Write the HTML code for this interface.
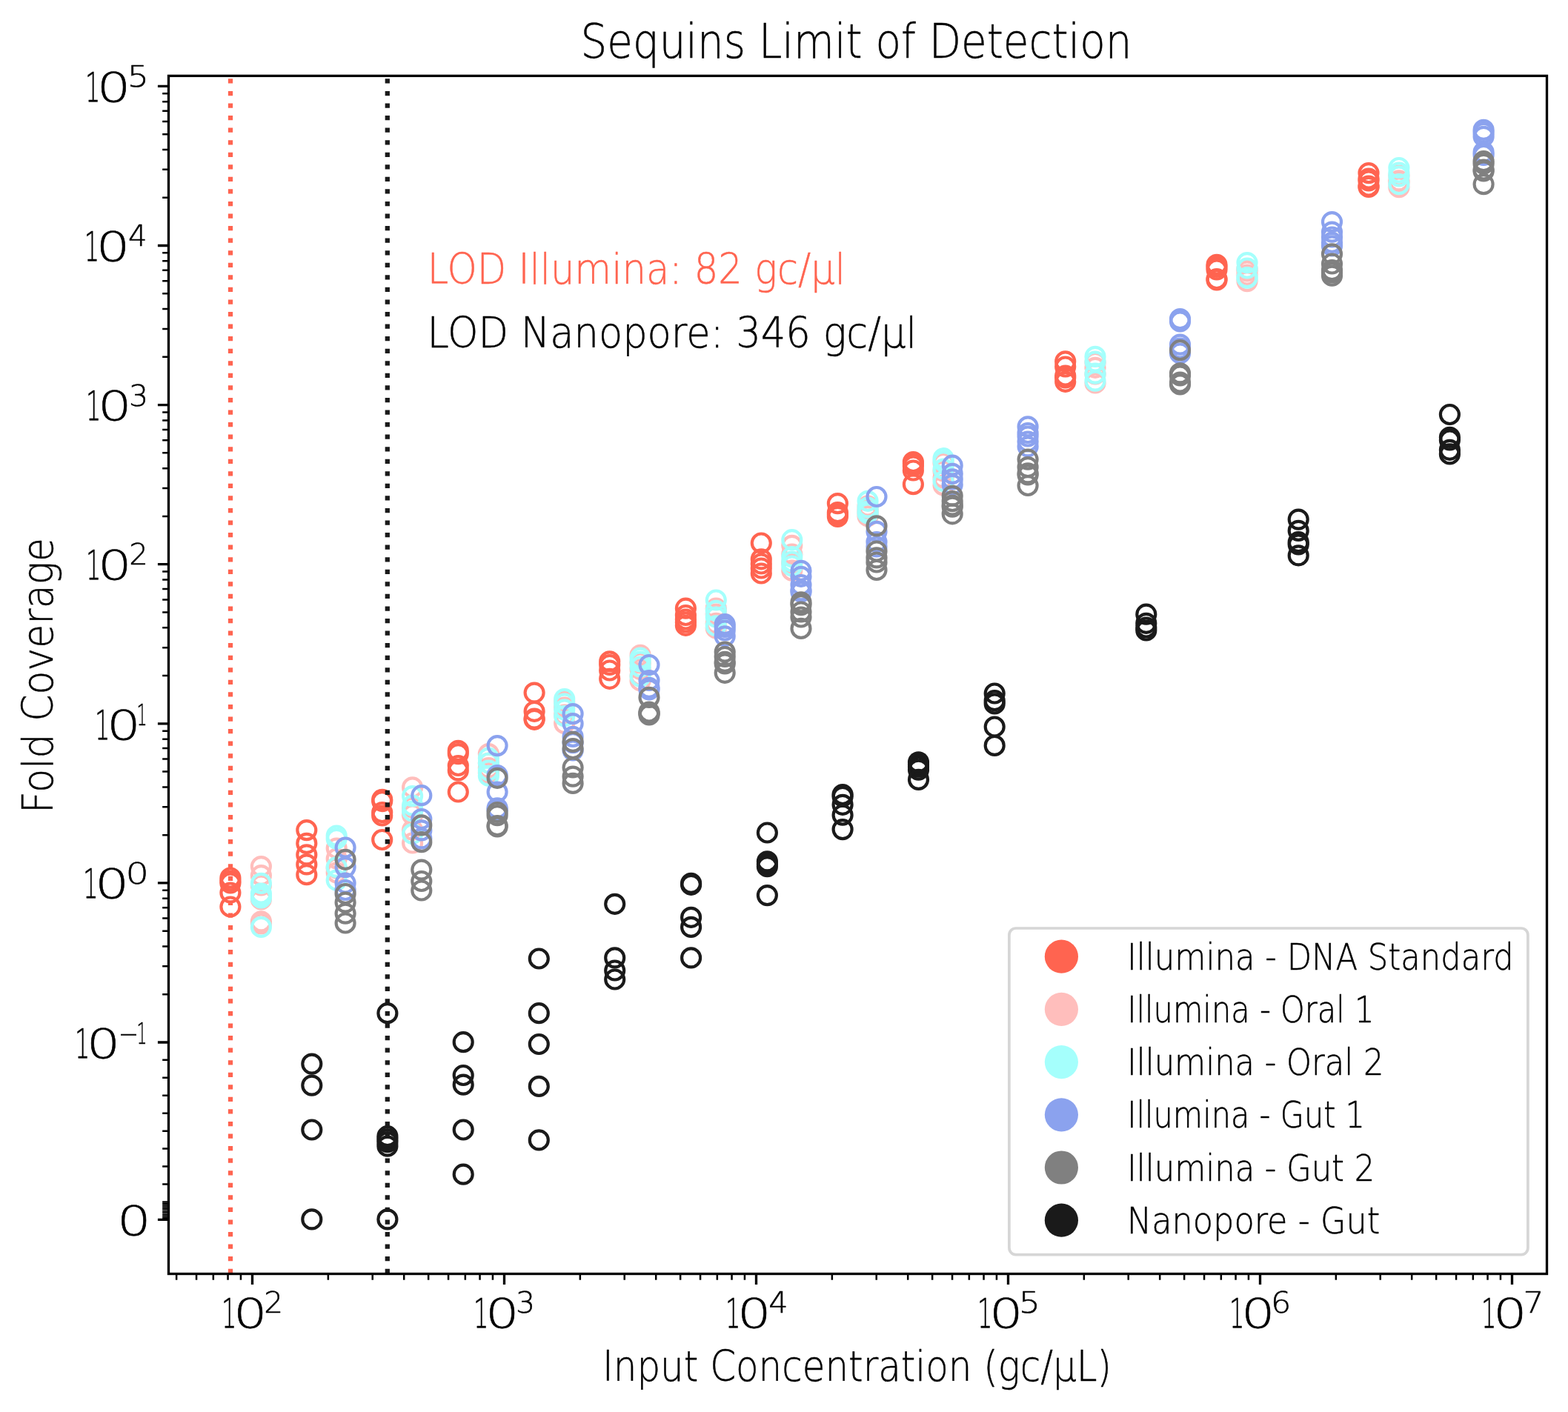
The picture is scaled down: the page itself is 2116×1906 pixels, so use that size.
<!DOCTYPE html><html><head><meta charset="utf-8"><title>Sequins Limit of Detection</title><style>html,body{margin:0;padding:0;background:#fff;overflow:hidden;}svg{display:block;}text{font-family:"DejaVu Sans", "Liberation Sans", sans-serif;font-weight:200;stroke-width:0.5px;stroke-linejoin:round;}</style></head><body>
<svg xmlns="http://www.w3.org/2000/svg" width="2116" height="1906" viewBox="0 0 2116 1906">
<rect x="0" y="0" width="2116" height="1906" fill="#fff"/>
<path d="M238.15 1719.5V1727.83M265.07 1719.5V1727.83M287.83 1719.5V1727.83M307.55 1719.5V1727.83M324.94 1719.5V1727.83M442.85 1719.5V1727.83M502.72 1719.5V1727.83M545.20 1719.5V1727.83M578.15 1719.5V1727.83M605.07 1719.5V1727.83M627.83 1719.5V1727.83M647.55 1719.5V1727.83M664.94 1719.5V1727.83M782.85 1719.5V1727.83M842.72 1719.5V1727.83M885.20 1719.5V1727.83M918.15 1719.5V1727.83M945.07 1719.5V1727.83M967.83 1719.5V1727.83M987.55 1719.5V1727.83M1004.94 1719.5V1727.83M1122.85 1719.5V1727.83M1182.72 1719.5V1727.83M1225.20 1719.5V1727.83M1258.15 1719.5V1727.83M1285.07 1719.5V1727.83M1307.83 1719.5V1727.83M1327.55 1719.5V1727.83M1344.94 1719.5V1727.83M1462.85 1719.5V1727.83M1522.72 1719.5V1727.83M1565.20 1719.5V1727.83M1598.15 1719.5V1727.83M1625.07 1719.5V1727.83M1647.83 1719.5V1727.83M1667.55 1719.5V1727.83M1684.94 1719.5V1727.83M1802.85 1719.5V1727.83M1862.72 1719.5V1727.83M1905.20 1719.5V1727.83M1938.15 1719.5V1727.83M1965.07 1719.5V1727.83M1987.83 1719.5V1727.83M2007.55 1719.5V1727.83M2024.94 1719.5V1727.83M227.5 1342.25H219.17M227.5 1304.37H219.17M227.5 1277.50H219.17M227.5 1256.65H219.17M227.5 1239.62H219.17M227.5 1225.22H219.17M227.5 1212.75H219.17M227.5 1201.74H219.17M227.5 1127.15H219.17M227.5 1089.27H219.17M227.5 1062.40H219.17M227.5 1041.55H219.17M227.5 1024.52H219.17M227.5 1010.12H219.17M227.5 997.65H219.17M227.5 986.64H219.17M227.5 912.05H219.17M227.5 874.17H219.17M227.5 847.30H219.17M227.5 826.45H219.17M227.5 809.42H219.17M227.5 795.02H219.17M227.5 782.55H219.17M227.5 771.54H219.17M227.5 696.95H219.17M227.5 659.07H219.17M227.5 632.20H219.17M227.5 611.35H219.17M227.5 594.32H219.17M227.5 579.92H219.17M227.5 567.45H219.17M227.5 556.44H219.17M227.5 481.85H219.17M227.5 443.97H219.17M227.5 417.10H219.17M227.5 396.25H219.17M227.5 379.22H219.17M227.5 364.82H219.17M227.5 352.35H219.17M227.5 341.34H219.17M227.5 266.75H219.17M227.5 228.87H219.17M227.5 202.00H219.17M227.5 181.15H219.17M227.5 164.12H219.17M227.5 149.72H219.17M227.5 137.25H219.17M227.5 126.24H219.17M227.5 1622.45H219.17M227.5 1598.50H219.17M227.5 1574.55H219.17M227.5 1550.60H219.17M227.5 1526.65H219.17M227.5 1502.70H219.17M227.5 1478.75H219.17M227.5 1454.80H219.17M227.5 1430.85H219.17" stroke="#000" stroke-width="2.5" fill="none"/>
<path d="M227.5 1644.01H219.17M227.5 1641.61H219.17M227.5 1639.22H219.17M227.5 1636.82H219.17M227.5 1634.43H219.17M227.5 1632.03H219.17M227.5 1629.63H219.17M227.5 1627.24H219.17M227.5 1624.85H219.17" stroke="#000" stroke-width="2.1" fill="none"/>
<path d="M340.50 1719.5V1734.08M680.50 1719.5V1734.08M1020.50 1719.5V1734.08M1360.50 1719.5V1734.08M1700.50 1719.5V1734.08M2040.50 1719.5V1734.08M227.5 1407.00H212.92M227.5 1191.90H212.92M227.5 976.80H212.92M227.5 761.70H212.92M227.5 546.60H212.92M227.5 331.50H212.92M227.5 116.40H212.92M227.5 1646.40H212.92" stroke="#000" stroke-width="3.33" fill="none"/>
<g fill="none" stroke="#ff6450" stroke-width="4.17"><circle cx="310.9" cy="1185.0" r="12.5"/><circle cx="310.9" cy="1189.0" r="12.5"/><circle cx="310.9" cy="1192.0" r="12.5"/><circle cx="310.9" cy="1205.0" r="12.5"/><circle cx="310.9" cy="1224.0" r="12.5"/><circle cx="413.8" cy="1120.6" r="12.5"/><circle cx="413.8" cy="1138.4" r="12.5"/><circle cx="413.8" cy="1153.8" r="12.5"/><circle cx="413.8" cy="1166.9" r="12.5"/><circle cx="413.8" cy="1180.7" r="12.5"/><circle cx="515.7" cy="1079.3" r="12.5"/><circle cx="515.7" cy="1081.6" r="12.5"/><circle cx="515.7" cy="1096.6" r="12.5"/><circle cx="515.7" cy="1101.0" r="12.5"/><circle cx="515.7" cy="1133.5" r="12.5"/><circle cx="618.3" cy="1013.4" r="12.5"/><circle cx="618.3" cy="1017.6" r="12.5"/><circle cx="618.3" cy="1033.5" r="12.5"/><circle cx="618.3" cy="1039.9" r="12.5"/><circle cx="618.3" cy="1069.0" r="12.5"/><circle cx="721.1" cy="935.1" r="12.5"/><circle cx="721.1" cy="960.3" r="12.5"/><circle cx="721.1" cy="970.1" r="12.5"/><circle cx="721.1" cy="971.3" r="12.5"/><circle cx="822.7" cy="892.8" r="12.5"/><circle cx="822.7" cy="897.5" r="12.5"/><circle cx="822.7" cy="905.0" r="12.5"/><circle cx="822.7" cy="916.3" r="12.5"/><circle cx="925.4" cy="821.2" r="12.5"/><circle cx="925.4" cy="830.5" r="12.5"/><circle cx="925.4" cy="836.0" r="12.5"/><circle cx="925.4" cy="840.0" r="12.5"/><circle cx="925.4" cy="844.3" r="12.5"/><circle cx="1027.3" cy="733.0" r="12.5"/><circle cx="1027.3" cy="754.8" r="12.5"/><circle cx="1027.3" cy="761.0" r="12.5"/><circle cx="1027.3" cy="767.0" r="12.5"/><circle cx="1027.3" cy="774.0" r="12.5"/><circle cx="1130.4" cy="679.6" r="12.5"/><circle cx="1130.4" cy="691.7" r="12.5"/><circle cx="1130.4" cy="694.5" r="12.5"/><circle cx="1130.4" cy="697.5" r="12.5"/><circle cx="1232.4" cy="623.5" r="12.5"/><circle cx="1232.4" cy="626.0" r="12.5"/><circle cx="1232.4" cy="629.0" r="12.5"/><circle cx="1232.4" cy="635.0" r="12.5"/><circle cx="1232.4" cy="653.7" r="12.5"/><circle cx="1437.7" cy="487.9" r="12.5"/><circle cx="1437.7" cy="495.0" r="12.5"/><circle cx="1437.7" cy="507.0" r="12.5"/><circle cx="1437.7" cy="510.0" r="12.5"/><circle cx="1437.7" cy="515.3" r="12.5"/><circle cx="1642.0" cy="357.4" r="12.5"/><circle cx="1642.0" cy="360.3" r="12.5"/><circle cx="1642.0" cy="364.0" r="12.5"/><circle cx="1642.0" cy="376.5" r="12.5"/><circle cx="1642.0" cy="378.0" r="12.5"/><circle cx="1847.0" cy="233.6" r="12.5"/><circle cx="1847.0" cy="241.0" r="12.5"/><circle cx="1847.0" cy="244.0" r="12.5"/><circle cx="1847.0" cy="251.0" r="12.5"/><circle cx="1847.0" cy="252.5" r="12.5"/></g>
<g fill="none" stroke="#ffbebc" stroke-width="4.17"><circle cx="352.4" cy="1169.6" r="12.5"/><circle cx="352.4" cy="1181.7" r="12.5"/><circle cx="352.4" cy="1195.0" r="12.5"/><circle cx="352.4" cy="1214.0" r="12.5"/><circle cx="352.4" cy="1243.9" r="12.5"/><circle cx="352.4" cy="1247.0" r="12.5"/><circle cx="454.2" cy="1145.0" r="12.5"/><circle cx="454.2" cy="1159.0" r="12.5"/><circle cx="454.2" cy="1172.0" r="12.5"/><circle cx="454.2" cy="1178.0" r="12.5"/><circle cx="556.6" cy="1062.8" r="12.5"/><circle cx="556.6" cy="1090.0" r="12.5"/><circle cx="556.6" cy="1100.0" r="12.5"/><circle cx="556.6" cy="1120.3" r="12.5"/><circle cx="556.6" cy="1138.0" r="12.5"/><circle cx="659.4" cy="1017.6" r="12.5"/><circle cx="659.4" cy="1036.7" r="12.5"/><circle cx="659.4" cy="1043.6" r="12.5"/><circle cx="659.4" cy="1030.0" r="12.5"/><circle cx="761.7" cy="947.0" r="12.5"/><circle cx="761.7" cy="955.0" r="12.5"/><circle cx="761.7" cy="965.0" r="12.5"/><circle cx="761.7" cy="976.5" r="12.5"/><circle cx="864.1" cy="884.4" r="12.5"/><circle cx="864.1" cy="895.0" r="12.5"/><circle cx="864.1" cy="903.5" r="12.5"/><circle cx="864.1" cy="912.0" r="12.5"/><circle cx="864.1" cy="918.8" r="12.5"/><circle cx="966.3" cy="821.2" r="12.5"/><circle cx="966.3" cy="829.1" r="12.5"/><circle cx="966.3" cy="841.3" r="12.5"/><circle cx="966.3" cy="848.0" r="12.5"/><circle cx="1068.8" cy="736.3" r="12.5"/><circle cx="1068.8" cy="748.0" r="12.5"/><circle cx="1068.8" cy="759.7" r="12.5"/><circle cx="1068.8" cy="770.2" r="12.5"/><circle cx="1171.1" cy="683.0" r="12.5"/><circle cx="1171.1" cy="688.0" r="12.5"/><circle cx="1171.1" cy="692.0" r="12.5"/><circle cx="1171.1" cy="696.7" r="12.5"/><circle cx="1273.1" cy="625.4" r="12.5"/><circle cx="1273.1" cy="636.0" r="12.5"/><circle cx="1273.1" cy="645.0" r="12.5"/><circle cx="1273.1" cy="655.0" r="12.5"/><circle cx="1478.0" cy="489.3" r="12.5"/><circle cx="1478.0" cy="496.3" r="12.5"/><circle cx="1478.0" cy="505.0" r="12.5"/><circle cx="1478.0" cy="517.0" r="12.5"/><circle cx="1683.0" cy="362.8" r="12.5"/><circle cx="1683.0" cy="366.0" r="12.5"/><circle cx="1683.0" cy="371.0" r="12.5"/><circle cx="1683.0" cy="379.6" r="12.5"/><circle cx="1887.9" cy="237.1" r="12.5"/><circle cx="1887.9" cy="243.8" r="12.5"/><circle cx="1887.9" cy="246.3" r="12.5"/><circle cx="1887.9" cy="252.7" r="12.5"/></g>
<g fill="none" stroke="#a5fffc" stroke-width="4.17"><circle cx="352.4" cy="1192.4" r="12.5"/><circle cx="352.4" cy="1206.0" r="12.5"/><circle cx="352.4" cy="1209.0" r="12.5"/><circle cx="352.4" cy="1211.9" r="12.5"/><circle cx="352.4" cy="1251.4" r="12.5"/><circle cx="454.2" cy="1128.1" r="12.5"/><circle cx="454.2" cy="1132.3" r="12.5"/><circle cx="454.2" cy="1170.6" r="12.5"/><circle cx="454.2" cy="1188.1" r="12.5"/><circle cx="556.6" cy="1074.6" r="12.5"/><circle cx="556.6" cy="1087.2" r="12.5"/><circle cx="556.6" cy="1095.0" r="12.5"/><circle cx="556.6" cy="1125.5" r="12.5"/><circle cx="659.4" cy="1023.2" r="12.5"/><circle cx="659.4" cy="1030.0" r="12.5"/><circle cx="659.4" cy="1040.0" r="12.5"/><circle cx="659.4" cy="1047.3" r="12.5"/><circle cx="761.7" cy="943.5" r="12.5"/><circle cx="761.7" cy="950.0" r="12.5"/><circle cx="761.7" cy="958.0" r="12.5"/><circle cx="761.7" cy="966.7" r="12.5"/><circle cx="864.1" cy="888.2" r="12.5"/><circle cx="864.1" cy="893.0" r="12.5"/><circle cx="864.1" cy="900.0" r="12.5"/><circle cx="864.1" cy="913.2" r="12.5"/><circle cx="966.3" cy="810.0" r="12.5"/><circle cx="966.3" cy="824.4" r="12.5"/><circle cx="966.3" cy="833.0" r="12.5"/><circle cx="966.3" cy="844.8" r="12.5"/><circle cx="1068.8" cy="728.7" r="12.5"/><circle cx="1068.8" cy="751.7" r="12.5"/><circle cx="1068.8" cy="758.0" r="12.5"/><circle cx="1068.8" cy="764.0" r="12.5"/><circle cx="1171.1" cy="676.3" r="12.5"/><circle cx="1171.1" cy="685.0" r="12.5"/><circle cx="1171.1" cy="690.0" r="12.5"/><circle cx="1171.1" cy="693.0" r="12.5"/><circle cx="1273.1" cy="618.7" r="12.5"/><circle cx="1273.1" cy="622.6" r="12.5"/><circle cx="1273.1" cy="633.0" r="12.5"/><circle cx="1273.1" cy="649.5" r="12.5"/><circle cx="1478.0" cy="481.4" r="12.5"/><circle cx="1478.0" cy="488.0" r="12.5"/><circle cx="1478.0" cy="504.2" r="12.5"/><circle cx="1478.0" cy="514.1" r="12.5"/><circle cx="1683.0" cy="354.6" r="12.5"/><circle cx="1683.0" cy="362.0" r="12.5"/><circle cx="1683.0" cy="374.7" r="12.5"/><circle cx="1683.0" cy="375.2" r="12.5"/><circle cx="1887.9" cy="226.5" r="12.5"/><circle cx="1887.9" cy="233.0" r="12.5"/><circle cx="1887.9" cy="238.0" r="12.5"/><circle cx="1887.9" cy="248.7" r="12.5"/></g>
<g fill="none" stroke="#8ba2ee" stroke-width="4.17"><circle cx="466.1" cy="1144.0" r="12.5"/><circle cx="466.1" cy="1170.6" r="12.5"/><circle cx="466.1" cy="1192.0" r="12.5"/><circle cx="466.1" cy="1201.5" r="12.5"/><circle cx="568.8" cy="1073.7" r="12.5"/><circle cx="568.8" cy="1105.5" r="12.5"/><circle cx="568.8" cy="1120.9" r="12.5"/><circle cx="568.8" cy="1131.9" r="12.5"/><circle cx="671.1" cy="1006.6" r="12.5"/><circle cx="671.1" cy="1046.6" r="12.5"/><circle cx="671.1" cy="1069.0" r="12.5"/><circle cx="671.1" cy="1090.9" r="12.5"/><circle cx="671.1" cy="1092.7" r="12.5"/><circle cx="773.1" cy="963.6" r="12.5"/><circle cx="773.1" cy="976.7" r="12.5"/><circle cx="773.1" cy="994.4" r="12.5"/><circle cx="773.1" cy="1002.7" r="12.5"/><circle cx="773.1" cy="1012.9" r="12.5"/><circle cx="876.0" cy="897.5" r="12.5"/><circle cx="876.0" cy="918.5" r="12.5"/><circle cx="876.0" cy="928.3" r="12.5"/><circle cx="876.0" cy="930.9" r="12.5"/><circle cx="978.2" cy="842.7" r="12.5"/><circle cx="978.2" cy="846.4" r="12.5"/><circle cx="978.2" cy="851.0" r="12.5"/><circle cx="978.2" cy="858.8" r="12.5"/><circle cx="1081.0" cy="770.4" r="12.5"/><circle cx="1081.0" cy="778.3" r="12.5"/><circle cx="1081.0" cy="789.5" r="12.5"/><circle cx="1081.0" cy="796.8" r="12.5"/><circle cx="1081.0" cy="798.9" r="12.5"/><circle cx="1183.0" cy="670.5" r="12.5"/><circle cx="1183.0" cy="717.4" r="12.5"/><circle cx="1183.0" cy="731.6" r="12.5"/><circle cx="1183.0" cy="738.0" r="12.5"/><circle cx="1285.2" cy="628.2" r="12.5"/><circle cx="1285.2" cy="639.4" r="12.5"/><circle cx="1285.2" cy="646.9" r="12.5"/><circle cx="1285.2" cy="654.3" r="12.5"/><circle cx="1387.1" cy="575.9" r="12.5"/><circle cx="1387.1" cy="584.5" r="12.5"/><circle cx="1387.1" cy="589.0" r="12.5"/><circle cx="1387.1" cy="596.0" r="12.5"/><circle cx="1387.1" cy="602.8" r="12.5"/><circle cx="1592.5" cy="430.6" r="12.5"/><circle cx="1592.5" cy="434.0" r="12.5"/><circle cx="1592.5" cy="465.1" r="12.5"/><circle cx="1592.5" cy="470.0" r="12.5"/><circle cx="1592.5" cy="477.0" r="12.5"/><circle cx="1797.5" cy="299.6" r="12.5"/><circle cx="1797.5" cy="313.1" r="12.5"/><circle cx="1797.5" cy="320.0" r="12.5"/><circle cx="1797.5" cy="327.4" r="12.5"/><circle cx="1797.5" cy="331.9" r="12.5"/><circle cx="2002.1" cy="175.4" r="12.5"/><circle cx="2002.1" cy="179.4" r="12.5"/><circle cx="2002.1" cy="184.3" r="12.5"/><circle cx="2002.1" cy="205.4" r="12.5"/><circle cx="2002.1" cy="209.5" r="12.5"/></g>
<g fill="none" stroke="#808080" stroke-width="4.17"><circle cx="466.1" cy="1160.3" r="12.5"/><circle cx="466.1" cy="1206.5" r="12.5"/><circle cx="466.1" cy="1218.2" r="12.5"/><circle cx="466.1" cy="1233.1" r="12.5"/><circle cx="466.1" cy="1246.0" r="12.5"/><circle cx="568.8" cy="1113.9" r="12.5"/><circle cx="568.8" cy="1136.7" r="12.5"/><circle cx="568.8" cy="1174.1" r="12.5"/><circle cx="568.8" cy="1189.5" r="12.5"/><circle cx="568.8" cy="1202.0" r="12.5"/><circle cx="671.1" cy="1050.3" r="12.5"/><circle cx="671.1" cy="1096.5" r="12.5"/><circle cx="671.1" cy="1100.7" r="12.5"/><circle cx="671.1" cy="1114.6" r="12.5"/><circle cx="671.1" cy="1116.0" r="12.5"/><circle cx="773.1" cy="1001.4" r="12.5"/><circle cx="773.1" cy="1010.7" r="12.5"/><circle cx="773.1" cy="1036.0" r="12.5"/><circle cx="773.1" cy="1048.1" r="12.5"/><circle cx="773.1" cy="1057.4" r="12.5"/><circle cx="876.0" cy="941.4" r="12.5"/><circle cx="876.0" cy="961.0" r="12.5"/><circle cx="876.0" cy="962.5" r="12.5"/><circle cx="876.0" cy="963.6" r="12.5"/><circle cx="876.0" cy="965.0" r="12.5"/><circle cx="978.2" cy="880.0" r="12.5"/><circle cx="978.2" cy="886.5" r="12.5"/><circle cx="978.2" cy="893.4" r="12.5"/><circle cx="978.2" cy="896.0" r="12.5"/><circle cx="978.2" cy="908.3" r="12.5"/><circle cx="1081.0" cy="812.9" r="12.5"/><circle cx="1081.0" cy="816.6" r="12.5"/><circle cx="1081.0" cy="826.0" r="12.5"/><circle cx="1081.0" cy="833.0" r="12.5"/><circle cx="1081.0" cy="848.4" r="12.5"/><circle cx="1183.0" cy="709.9" r="12.5"/><circle cx="1183.0" cy="744.0" r="12.5"/><circle cx="1183.0" cy="752.9" r="12.5"/><circle cx="1183.0" cy="759.0" r="12.5"/><circle cx="1183.0" cy="769.5" r="12.5"/><circle cx="1285.2" cy="669.3" r="12.5"/><circle cx="1285.2" cy="676.7" r="12.5"/><circle cx="1285.2" cy="682.1" r="12.5"/><circle cx="1285.2" cy="684.2" r="12.5"/><circle cx="1285.2" cy="693.8" r="12.5"/><circle cx="1387.1" cy="620.1" r="12.5"/><circle cx="1387.1" cy="630.6" r="12.5"/><circle cx="1387.1" cy="638.8" r="12.5"/><circle cx="1387.1" cy="641.0" r="12.5"/><circle cx="1387.1" cy="655.5" r="12.5"/><circle cx="1592.5" cy="472.7" r="12.5"/><circle cx="1592.5" cy="503.8" r="12.5"/><circle cx="1592.5" cy="507.0" r="12.5"/><circle cx="1592.5" cy="516.0" r="12.5"/><circle cx="1592.5" cy="519.0" r="12.5"/><circle cx="1797.5" cy="342.8" r="12.5"/><circle cx="1797.5" cy="356.0" r="12.5"/><circle cx="1797.5" cy="364.6" r="12.5"/><circle cx="1797.5" cy="368.0" r="12.5"/><circle cx="1797.5" cy="372.2" r="12.5"/><circle cx="2002.1" cy="217.6" r="12.5"/><circle cx="2002.1" cy="221.3" r="12.5"/><circle cx="2002.1" cy="229.0" r="12.5"/><circle cx="2002.1" cy="231.0" r="12.5"/><circle cx="2002.1" cy="248.7" r="12.5"/></g>
<g fill="none" stroke="#1a1a1a" stroke-width="4.17"><circle cx="420.8" cy="1436.1" r="12.5"/><circle cx="420.8" cy="1465.1" r="12.5"/><circle cx="420.8" cy="1525.0" r="12.5"/><circle cx="420.8" cy="1645.9" r="12.5"/><circle cx="522.9" cy="1367.7" r="12.5"/><circle cx="522.9" cy="1533.7" r="12.5"/><circle cx="522.9" cy="1537.7" r="12.5"/><circle cx="522.9" cy="1541.7" r="12.5"/><circle cx="522.9" cy="1547.1" r="12.5"/><circle cx="522.9" cy="1645.9" r="12.5"/><circle cx="625.2" cy="1406.7" r="12.5"/><circle cx="625.2" cy="1451.5" r="12.5"/><circle cx="625.2" cy="1464.2" r="12.5"/><circle cx="625.2" cy="1525.0" r="12.5"/><circle cx="625.2" cy="1585.2" r="12.5"/><circle cx="727.3" cy="1294.0" r="12.5"/><circle cx="727.3" cy="1367.7" r="12.5"/><circle cx="727.3" cy="1409.5" r="12.5"/><circle cx="727.3" cy="1466.4" r="12.5"/><circle cx="727.3" cy="1538.9" r="12.5"/><circle cx="829.7" cy="1220.3" r="12.5"/><circle cx="829.7" cy="1292.9" r="12.5"/><circle cx="829.7" cy="1310.0" r="12.5"/><circle cx="829.7" cy="1322.0" r="12.5"/><circle cx="932.6" cy="1192.4" r="12.5"/><circle cx="932.6" cy="1194.3" r="12.5"/><circle cx="932.6" cy="1238.3" r="12.5"/><circle cx="932.6" cy="1251.4" r="12.5"/><circle cx="932.6" cy="1292.9" r="12.5"/><circle cx="1035.4" cy="1124.0" r="12.5"/><circle cx="1035.4" cy="1162.9" r="12.5"/><circle cx="1035.4" cy="1166.4" r="12.5"/><circle cx="1035.4" cy="1169.7" r="12.5"/><circle cx="1035.4" cy="1208.6" r="12.5"/><circle cx="1137.1" cy="1072.5" r="12.5"/><circle cx="1137.1" cy="1075.3" r="12.5"/><circle cx="1137.1" cy="1086.3" r="12.5"/><circle cx="1137.1" cy="1100.2" r="12.5"/><circle cx="1137.1" cy="1119.6" r="12.5"/><circle cx="1239.5" cy="1028.8" r="12.5"/><circle cx="1239.5" cy="1032.0" r="12.5"/><circle cx="1239.5" cy="1035.1" r="12.5"/><circle cx="1239.5" cy="1039.2" r="12.5"/><circle cx="1239.5" cy="1052.4" r="12.5"/><circle cx="1342.2" cy="936.0" r="12.5"/><circle cx="1342.2" cy="945.7" r="12.5"/><circle cx="1342.2" cy="949.9" r="12.5"/><circle cx="1342.2" cy="981.0" r="12.5"/><circle cx="1342.2" cy="1006.4" r="12.5"/><circle cx="1546.8" cy="829.2" r="12.5"/><circle cx="1546.8" cy="841.3" r="12.5"/><circle cx="1546.8" cy="847.0" r="12.5"/><circle cx="1546.8" cy="851.0" r="12.5"/><circle cx="1752.2" cy="701.1" r="12.5"/><circle cx="1752.2" cy="716.4" r="12.5"/><circle cx="1752.2" cy="731.7" r="12.5"/><circle cx="1752.2" cy="735.0" r="12.5"/><circle cx="1752.2" cy="749.9" r="12.5"/><circle cx="1956.4" cy="559.5" r="12.5"/><circle cx="1956.4" cy="590.3" r="12.5"/><circle cx="1956.4" cy="594.0" r="12.5"/><circle cx="1956.4" cy="607.3" r="12.5"/><circle cx="1956.4" cy="612.9" r="12.5"/></g>
<path d="M311.00 1719.5V102.4" stroke="#ff6450" stroke-width="6.25" stroke-dasharray="6.25 10.31" stroke-dashoffset="-0.6" fill="none"/>
<path d="M522.80 1719.5V102.4" stroke="#1a1a1a" stroke-width="6.25" stroke-dasharray="6.25 10.31" stroke-dashoffset="-0.6" fill="none"/>
<rect x="227.5" y="102.4" width="1860.0" height="1617.1" fill="none" stroke="#000" stroke-width="3.33"/>
<text transform="translate(115.07 137.40) scale(0.5785 1)" font-size="55.45" fill="#000" stroke="#000">1</text>
<text transform="translate(130.87 137.40) scale(1.2908 1)" font-size="55.45" fill="#000" stroke="#000">0</text>
<text transform="translate(171.73 117.20) scale(1.1860 1)" font-size="38.66" fill="#000" stroke="#000">5</text>
<text transform="translate(113.87 351.90) scale(0.5785 1)" font-size="55.45" fill="#000" stroke="#000">1</text>
<text transform="translate(129.67 351.90) scale(1.2908 1)" font-size="55.45" fill="#000" stroke="#000">0</text>
<text transform="translate(173.09 332.30) scale(1.0398 1)" font-size="38.66" fill="#000" stroke="#000">4</text>
<text transform="translate(116.07 567.40) scale(0.5796 1)" font-size="55.45" fill="#000" stroke="#000">1</text>
<text transform="translate(131.90 567.40) scale(1.2933 1)" font-size="55.45" fill="#000" stroke="#000">0</text>
<text transform="translate(173.92 547.50) scale(1.0630 1)" font-size="38.66" fill="#000" stroke="#000">3</text>
<text transform="translate(116.07 781.50) scale(0.5796 1)" font-size="55.45" fill="#000" stroke="#000">1</text>
<text transform="translate(131.90 781.50) scale(1.2933 1)" font-size="55.45" fill="#000" stroke="#000">0</text>
<text transform="translate(174.19 762.40) scale(1.0403 1)" font-size="38.66" fill="#000" stroke="#000">2</text>
<text transform="translate(128.05 998.40) scale(0.5818 1)" font-size="55.45" fill="#000" stroke="#000">1</text>
<text transform="translate(143.94 998.40) scale(1.2984 1)" font-size="55.45" fill="#000" stroke="#000">0</text>
<text transform="translate(184.56 978.50) scale(0.5741 1)" font-size="38.66" fill="#000" stroke="#000">1</text>
<text transform="translate(111.92 1211.90) scale(0.5873 1)" font-size="55.45" fill="#000" stroke="#000">1</text>
<text transform="translate(127.96 1211.90) scale(1.3112 1)" font-size="55.45" fill="#000" stroke="#000">0</text>
<text transform="translate(169.54 1192.80) scale(1.2805 1)" font-size="38.66" fill="#000" stroke="#000">0</text>
<text transform="translate(101.08 1428.30) scale(0.5774 1)" font-size="55.45" fill="#000" stroke="#000">1</text>
<text transform="translate(116.85 1428.30) scale(1.2882 1)" font-size="55.45" fill="#000" stroke="#000">0</text>
<text transform="translate(159.75 1408.60) scale(0.8492 1)" font-size="38.66" fill="#000" stroke="#000">−</text>
<text transform="translate(184.59 1408.60) scale(0.5678 1)" font-size="38.66" fill="#000" stroke="#000">1</text>
<text transform="translate(158.04 1667.30) scale(1.2832 1)" font-size="55.97" fill="#000" stroke="#000">0</text>
<text transform="translate(299.07 1791.50) scale(0.5796 1)" font-size="55.45" fill="#000" stroke="#000">1</text>
<text transform="translate(314.90 1791.50) scale(1.2933 1)" font-size="55.45" fill="#000" stroke="#000">0</text>
<text transform="translate(356.36 1771.60) scale(1.0513 1)" font-size="38.66" fill="#000" stroke="#000">2</text>
<text transform="translate(639.07 1791.50) scale(0.5796 1)" font-size="55.45" fill="#000" stroke="#000">1</text>
<text transform="translate(654.90 1791.50) scale(1.2933 1)" font-size="55.45" fill="#000" stroke="#000">0</text>
<text transform="translate(696.12 1771.60) scale(1.0630 1)" font-size="38.66" fill="#000" stroke="#000">3</text>
<text transform="translate(979.07 1791.50) scale(0.5796 1)" font-size="55.45" fill="#000" stroke="#000">1</text>
<text transform="translate(994.90 1791.50) scale(1.2933 1)" font-size="55.45" fill="#000" stroke="#000">0</text>
<text transform="translate(1037.23 1771.60) scale(1.0702 1)" font-size="38.66" fill="#000" stroke="#000">4</text>
<text transform="translate(1319.07 1791.50) scale(0.5796 1)" font-size="55.45" fill="#000" stroke="#000">1</text>
<text transform="translate(1334.90 1791.50) scale(1.2933 1)" font-size="55.45" fill="#000" stroke="#000">0</text>
<text transform="translate(1374.73 1771.60) scale(1.1860 1)" font-size="38.66" fill="#000" stroke="#000">5</text>
<text transform="translate(1659.07 1791.50) scale(0.5796 1)" font-size="55.45" fill="#000" stroke="#000">1</text>
<text transform="translate(1674.90 1791.50) scale(1.2933 1)" font-size="55.45" fill="#000" stroke="#000">0</text>
<text transform="translate(1715.00 1771.60) scale(1.1148 1)" font-size="38.66" fill="#000" stroke="#000">6</text>
<text transform="translate(1999.07 1791.50) scale(0.5796 1)" font-size="55.45" fill="#000" stroke="#000">1</text>
<text transform="translate(2014.90 1791.50) scale(1.2933 1)" font-size="55.45" fill="#000" stroke="#000">0</text>
<text transform="translate(2055.56 1771.60) scale(1.1399 1)" font-size="38.66" fill="#000" stroke="#000">7</text>
<text transform="translate(783.47 77.70) scale(0.8752 1)" font-size="64.38" fill="#000" stroke="#000">Sequins Limit of Detection</text>
<text transform="translate(813.01 1863.80) scale(0.8721 1)" font-size="57.26" fill="#000" stroke="#000">Input Concentration (gc/µL)</text>
<g transform="translate(71 1091.5) rotate(-90)"><text transform="translate(-6.38 0) scale(0.9078 1)" font-size="57.40" fill="#000" stroke="#000">Fold Coverage</text></g>
<text transform="translate(576.73 382.90) scale(0.8919 1)" font-size="57.40" fill="#ff6450" stroke="#ff6450">LOD Illumina: 82 gc/µl</text>
<text transform="translate(576.54 468.80) scale(0.9206 1)" font-size="57.26" fill="#000" stroke="#000">LOD Nanopore: 346 gc/µl</text>
<rect x="1361.9" y="1253.0" width="700.0" height="440.6" rx="9" ry="9" fill="#fff" fill-opacity="0.8" stroke="#d6d6d6" stroke-width="3.7"/>
<circle cx="1432.4" cy="1291.20" r="22.6" fill="#ff6450"/>
<text transform="translate(1521.00 1308.80) scale(0.8808 1)" font-size="49.18" fill="#000" stroke="#000">Illumina - DNA Standard</text>
<circle cx="1432.4" cy="1362.40" r="22.6" fill="#ffbebc"/>
<text transform="translate(1521.21 1380.00) scale(0.8450 1)" font-size="49.18" fill="#000" stroke="#000">Illumina - Oral 1</text>
<circle cx="1432.4" cy="1433.60" r="22.6" fill="#a5fffc"/>
<text transform="translate(1521.02 1451.20) scale(0.8780 1)" font-size="49.18" fill="#000" stroke="#000">Illumina - Oral 2</text>
<circle cx="1432.4" cy="1504.80" r="22.6" fill="#8ba2ee"/>
<text transform="translate(1521.22 1522.40) scale(0.8435 1)" font-size="49.18" fill="#000" stroke="#000">Illumina - Gut 1</text>
<circle cx="1432.4" cy="1576.00" r="22.6" fill="#808080"/>
<text transform="translate(1521.01 1593.60) scale(0.8789 1)" font-size="49.18" fill="#000" stroke="#000">Illumina - Gut 2</text>
<circle cx="1432.4" cy="1647.20" r="22.6" fill="#1a1a1a"/>
<text transform="translate(1520.85 1664.80) scale(0.9073 1)" font-size="49.18" fill="#000" stroke="#000">Nanopore - Gut</text>
</svg></body></html>
